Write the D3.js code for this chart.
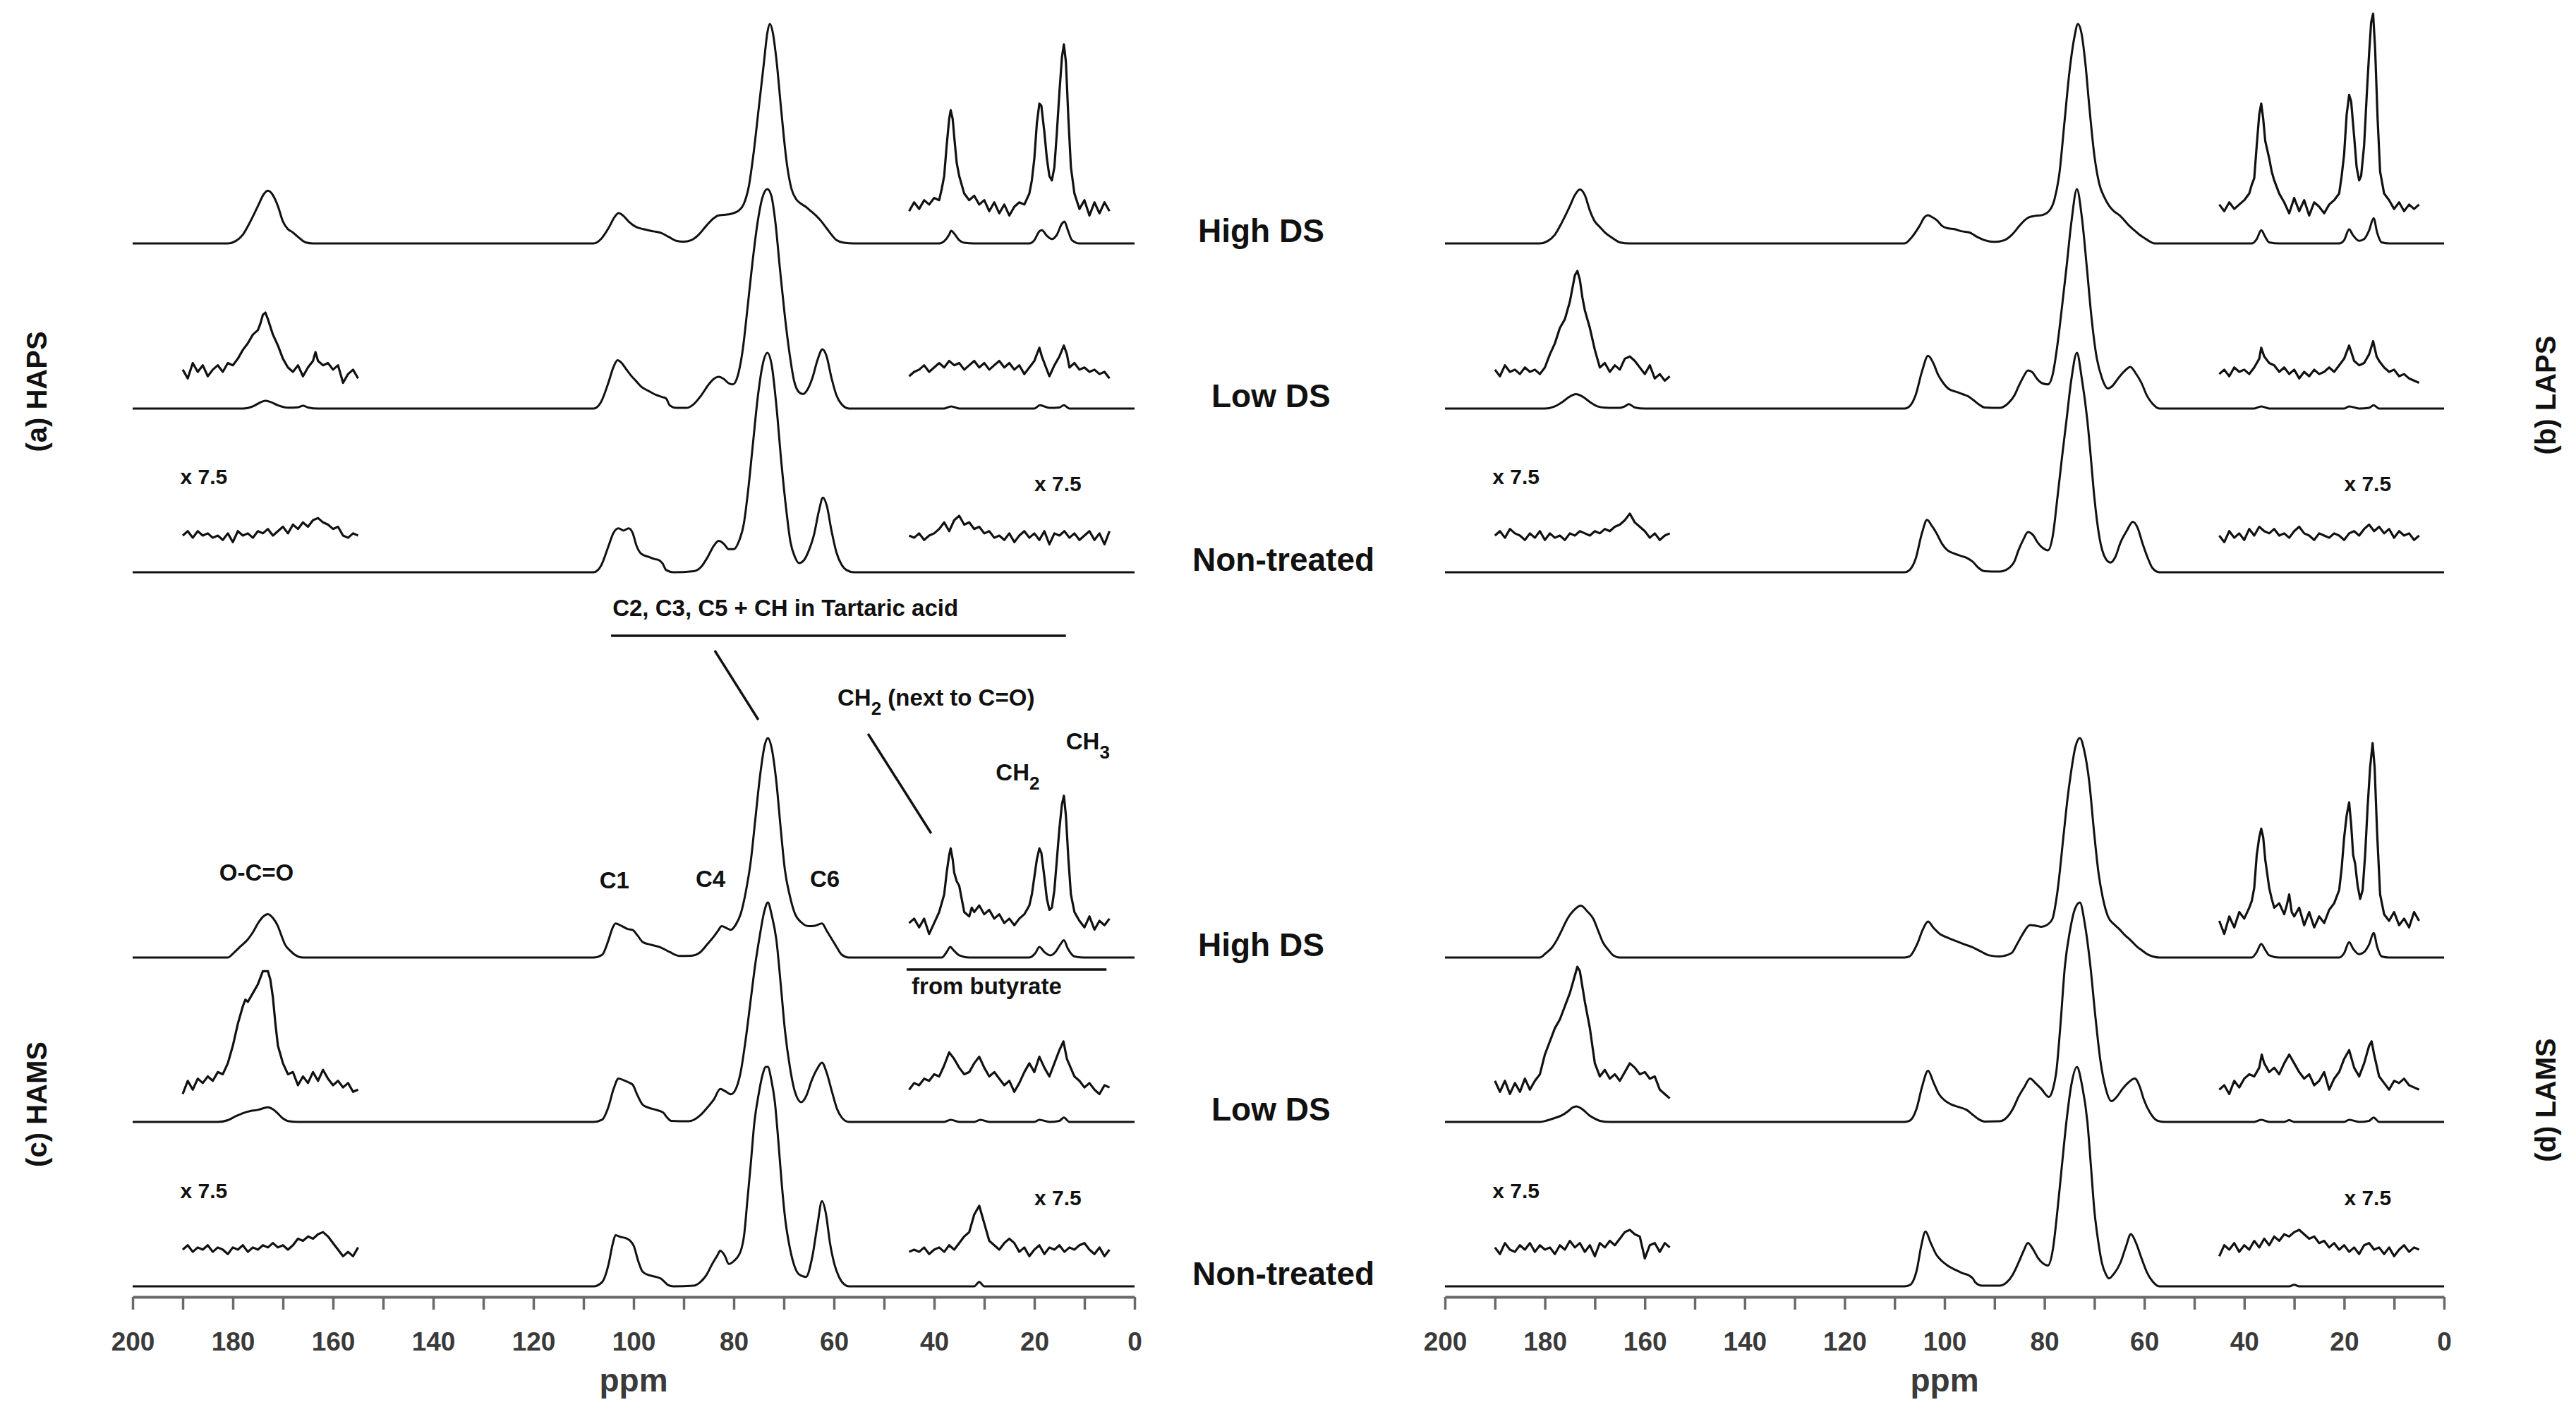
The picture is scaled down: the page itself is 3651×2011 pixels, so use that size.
<!DOCTYPE html>
<html lang="en">
<head>
<meta charset="UTF-8">
<title>13C CP/MAS NMR spectra</title>
<script src="https://cdn.jsdelivr.net/npm/d3@7"></script>
<style>
  body { margin: 0; background: #fff; }
  svg { display: block; font-family: "Liberation Sans", Arial, Helvetica, sans-serif; }
</style>
</head>
<body>
<script>
// ---- data (ppm, intensity; main peak = 100) ----
const samples = ["High DS", "Low DS", "Non-treated"];
const panelNames = ["(a) HAPS", "(b) LAPS", "(c) HAMS", "(d) LAMS"];
const axisTicks = [200, 190, 180, 170, 160, 150, 140, 130, 120, 110, 100, 90, 80, 70, 60, 50, 40, 30, 20, 10, 0];
const zoomLabel = "x 7.5";

// (a) HAPS
const hapsHigh = [[200,0],[181,0],[179.5,1],[178,4],[176.5,10],[175,17],[173.8,22.5],[173,24],[172,22],[171,17],[170,10],[169,6.5],[168,5],[167,3],[165.5,0.5],[164,0],[108,0],[106.5,2],[105,7],[103.8,12],[103,13.8],[102,12.5],[101,10],[99.5,7.5],[98,6.5],[96,5.5],[94.5,4.8],[93,3],[91.5,1.2],[90,0.8],[88.5,1.5],[87,4],[85.5,8],[84,11.5],[83,12.8],[82,13],[80.5,13.5],[79,15],[78,18],[77,26],[76,42],[75,62],[74,82],[73.3,96],[72.8,100],[72.2,96],[71.5,84],[70.5,60],[69.5,38],[68.5,25],[67.5,20],[66.5,18],[65.5,16.5],[64.5,14.5],[63.5,12.5],[62.5,10],[61.5,7],[60.5,4],[59.5,1.5],[58,0.3],[56,0],[39,0],[38,1],[37,4],[36.6,5.8],[36,4.5],[35,1.5],[34,0.3],[32,0],[21,0],[20,1.5],[19,5.5],[18.5,6],[17.5,3.5],[16.5,2],[15.5,4],[14.5,9],[14,10],[13.3,6],[12.5,1.5],[11,0],[0,0]];
const hapsHighR = [[45,-2],[44,2],[43,-1],[42,3],[41,1],[40,4],[39,3],[38.5,8],[38,14],[37.5,28],[37,40],[36.7,44],[36.3,40],[36,32],[35.5,20],[35,14],[34,6],[33,3],[32,5],[31,1],[30,3],[29,-2],[28,2],[27,-3],[26,1],[25,-4],[24,0],[23,2],[22,1],[21,6],[20.5,12],[20,22],[19.5,38],[19,47],[18.6,46],[18,34],[17.5,22],[17,14],[16.5,12],[16,18],[15.5,34],[15,52],[14.5,68],[14.1,74],[13.7,66],[13.2,40],[12.7,18],[12,6],[11,-1],[10,3],[9,-4],[8,2],[7,-3],[6,2],[5,-2]];
const hapsLow = [[200,0],[178,0],[176,1],[174.5,2.8],[173.5,3.5],[172.5,3],[171,1.5],[169,0.4],[167,0.6],[166,1.3],[165,0.5],[163,0],[108,0],[106.5,3],[105,12],[104,19],[103.2,22],[102.5,21],[101.5,18],[100.5,15],[99.5,12.5],[98.5,10],[97,8],[95.5,6.2],[94.2,5.2],[93.5,4.6],[92.8,1.5],[91.5,0.3],[89.5,0.3],[88,2],[86.5,6],[85,11],[84,13.5],[83,14.5],[82,13.5],[81,11.5],[80.2,11],[79.2,15],[78.2,27],[77.3,45],[76.3,66],[75.3,84],[74.3,96],[73.3,100],[72.5,97],[71.7,85],[70.8,64],[69.8,42],[68.8,24],[68,13],[67,7.5],[66.2,6.6],[65.2,9],[64.3,14],[63.3,22],[62.3,27],[61.5,24],[60.5,14],[59.5,6],[58.5,2],[57,0],[38,0],[36.6,1],[35,0],[20,0],[18.9,1.5],[17,0.3],[15,0.5],[14.1,1.5],[13,0],[0,0]];
const hapsLowL = [[190,1],[189,-3],[188,4],[187,0],[186,3],[185,-2],[184,1],[183,3],[182,0],[181,4],[180,3],[179,6],[178,10],[177,13],[176,17],[175,19],[174.5,22],[174,26],[173.5,27],[173,24],[172,17],[171,12],[170,6],[169,2],[168,0],[167,3],[166,-2],[165,2],[164,5],[163.5,9],[163,5],[162,3],[161,4],[160,1],[159,3],[158,-5],[157,-1],[156,1],[155,-3]];
const hapsLowR = [[45,-2],[44,0],[43,1],[42,3],[41,0],[40,2],[39,4],[38,2],[37,5],[36,3],[35,4],[34,1],[33,3],[32,5],[31,2],[30,4],[29,1],[28,3],[27,5],[26,2],[25,4],[24,1],[23,3],[22,-1],[21,2],[20,5],[19,11],[18.5,7],[18,4],[17,-2],[16,3],[15,7],[14.1,12],[13.5,8],[13,2],[12,4],[11,1],[10,2],[9,0],[8,1],[7,-1],[6,0],[5,-3]];
const hapsNon = [[200,0],[108,0],[106.5,3],[105,12],[104,18],[103,20],[102,19],[101,20],[100.2,18],[99.4,12],[98.5,8.5],[97,7],[95.8,6],[95,5.6],[94.2,4],[93.5,1],[92,0],[88,0.5],[86.5,2.5],[85.2,7],[84,12],[83,14.3],[82,13],[81,10.5],[80,10.5],[79,14],[78,22],[77.2,36],[76.2,58],[75.2,80],[74.2,95],[73.3,100],[72.4,94],[71.5,76],[70.5,50],[69.5,28],[68.7,14],[67.8,7],[67,4.2],[66,5.5],[65,10],[64,17],[63,28],[62.2,34],[61.4,30],[60.5,19],[59.5,9],[58.5,3.5],[57.5,1],[56,0],[0,0]];
const hapsNonL = [[190,0],[189,2],[188,-1],[187,2],[186,0],[185,1],[184,-1],[183,0],[182,-2],[181,1],[180,-3],[179,2],[178,0],[177,1],[176,-1],[175,2],[174,1],[173,3],[172,0],[171,2],[170,4],[169,1],[168,5],[167,3],[166,6],[165,4],[164,7],[163,8],[162,6],[161,5],[160,3],[159,4],[158,0],[157,-1],[156,1],[155,0]];
const hapsNonR = [[45,0],[44,-1],[43,1],[42,-2],[41,0],[40,1],[39,3],[38,6],[37,2],[36,7],[35,9],[34,5],[33,6],[32,3],[31,4],[30,1],[29,2],[28,-1],[27,0],[26,-2],[25,1],[24,-3],[23,0],[22,2],[21,-1],[20,1],[19,-2],[18,2],[17,-4],[16,1],[15,0],[14,2],[13,-1],[12,1],[11,-2],[10,0],[9,2],[8,-2],[7,1],[6,-4],[5,2]];

// (b) LAPS
const lapsHigh = [[200,0],[181,0],[179.5,1],[178,4],[176.5,10],[175,17],[174,22],[173,24.6],[172,22],[171,15],[170,10],[169,7.5],[168,5],[166.5,2.5],[165,0.5],[163,0],[108,0],[106.5,3],[105,8],[104,12],[103.3,12.9],[102.5,12],[101.5,10.5],[100.5,8],[99.5,7],[98,6.5],[96.5,5.5],[95,5],[93.5,3],[92,1.5],[90,0.7],[88,1.5],[86.5,4],[85,8],[84,10.5],[83,12],[82,12.5],[80.5,12.9],[79,15],[78,20],[77,32],[76,55],[75,78],[74,94],[73.3,100],[72.6,96],[71.8,82],[71,62],[70,40],[69,27],[68,21],[67,17],[66,14.5],[65,12.9],[64,10.5],[63,8],[62,6],[61,4],[60,2.5],[59,1],[58,0],[38.5,0],[37.5,2],[36.6,6],[35.8,3],[35,0.5],[33,0],[21,0],[20,1.5],[19,6.4],[18.3,4],[17,1.2],[16,2],[15,6],[14.1,11.5],[13.4,5],[12.5,0.5],[11,0],[0,0]];
const lapsHighR = [[45,1],[44,-2],[43,2],[42,-1],[41,1],[40,3],[39,6],[38.5,10],[38,13],[37.5,28],[37,42],[36.6,47],[36.2,40],[35.8,30],[35,22],[34.5,16],[34,12],[33,6],[32,2],[31,-3],[30,4],[29,-2],[28,3],[27,-4],[26,2],[25,0],[24,-3],[23,1],[22,3],[21,6],[20.5,14],[20,24],[19.5,42],[19,51],[18.6,48],[18,32],[17.5,18],[17,12],[16.6,14],[16,28],[15.5,50],[15,70],[14.6,84],[14.2,88],[13.8,72],[13.3,40],[12.8,16],[12,6],[11,3],[10,-1],[9,2],[8,-2],[7,1],[6,-1],[5,1]];
const lapsLow = [[200,0],[180,0],[178,1],[176.5,3],[175,5.5],[173.8,6.6],[172.5,5.5],[171,3],[169.5,1],[168,0.4],[165,0.3],[164,1],[163.2,2],[162,0.5],[160,0],[108,0],[107,1],[105.8,6],[104.5,17],[103.3,24],[102.3,21],[101.3,15.5],[100.2,11.5],[99.2,9],[97.5,7.5],[96.4,6.6],[95.2,5.5],[94.3,4],[93.2,2],[92,0.5],[89,0.3],[87.3,2.3],[86,6],[85.2,10],[84.2,14.5],[83.3,17.4],[82.4,16.5],[81.5,13.6],[80.4,11.5],[79.3,11],[78.3,16],[77.4,29],[76.5,46],[75.6,64],[74.6,85],[73.5,100],[72.5,87],[71.5,64],[70.6,42],[69.6,24],[68.5,14],[67.3,9.2],[66.3,10.5],[65.3,13.6],[64,17],[62.8,19],[61.7,16],[60.6,11.8],[59.5,6],[58.4,2.3],[57,0],[38,0],[36.6,1],[35,0],[20,0],[19,1],[17,0],[15,0.3],[14.1,1.5],[13,0],[0,0]];
const lapsLowL = [[190,1],[189,-2],[188,3],[187,0],[186,1],[185,-1],[184,2],[183,0],[182,1],[181,-1],[180,2],[179,8],[178,13],[177,20],[176,24],[175,32],[174.5,38],[174,44],[173.5,46],[173,42],[172.5,34],[172,28],[171,20],[170,10],[169,2],[168,4],[167,0],[166,3],[165,1],[164,6],[163,7],[162,5],[161,2],[160,-1],[159,3],[158,-3],[157,-1],[156,-4],[155,-2]];
const lapsLowR = [[45,-1],[44,1],[43,-2],[42,2],[41,0],[40,1],[39,-1],[38,2],[37,6],[36.6,11],[36,7],[35,4],[34,3],[33,0],[32,2],[31,-1],[30,1],[29,-3],[28,0],[27,-2],[26,1],[25,-1],[24,0],[23,2],[22,0],[21,3],[20,6],[19,12],[18,5],[17,3],[16,4],[15,8],[14.2,14],[13.5,7],[13,5],[12,2],[11,0],[10,1],[9,-2],[8,-1],[7,-3],[6,-4],[5,-5]];
const lapsNon = [[200,0],[108,0],[107,1],[105.8,6],[104.5,18],[103.5,23.9],[102.5,21],[101.6,17.8],[100.5,13],[99.4,10],[98,8.5],[96.5,7.3],[95.5,6.5],[94.3,4.7],[93.2,2],[92,0.5],[89,0.3],[87.3,1.6],[86,5],[85.2,10],[84.2,15],[83.3,18.3],[82.3,17],[81.3,13.4],[80.3,11],[79.3,10],[78.3,17],[77.4,34],[76.5,52],[75.6,69],[74.6,88],[73.5,100],[72.5,88],[71.4,69],[70.7,52],[70,34],[69,16],[67.8,6.4],[66.8,4.4],[65.8,7],[64.8,13.4],[63.5,19],[62.3,23],[61.3,20],[60.4,13.4],[59.4,7],[58.4,2],[57,0],[0,0]];
const lapsNonL = [[190,0],[189,2],[188,-1],[187,3],[186,1],[185,0],[184,-2],[183,1],[182,-1],[181,2],[180,-2],[179,1],[178,-1],[177,0],[176,-2],[175,1],[174,0],[173,2],[172,1],[171,0],[170,2],[169,1],[168,3],[167,2],[166,4],[165,5],[164,7],[163,10],[162,6],[161,4],[160,2],[159,-1],[158,1],[157,-2],[156,0],[155,1]];
const lapsNonR = [[45,0],[44,-3],[43,2],[42,-1],[41,1],[40,-2],[39,3],[38,0],[37,4],[36,2],[35,1],[34,3],[33,0],[32,1],[31,-1],[30,2],[29,4],[28,1],[27,0],[26,-2],[25,1],[24,0],[23,-1],[22,1],[21,0],[20,-2],[19,1],[18,2],[17,0],[16,3],[15,5],[14,2],[13,4],[12,1],[11,3],[10,-1],[9,2],[8,0],[7,1],[6,-2],[5,0]];

// (c) HAMS
const hamsHigh = [[200,0],[181,0],[179.7,2.4],[178.5,5],[177,8.3],[176,11.5],[175,15.5],[174,18.5],[173,19.8],[172,18],[171,14.3],[170.3,10],[169.6,6],[168.5,3],[167.6,1.2],[166,0],[108,0],[106.3,1.2],[105,8],[104.2,13.5],[103.6,15.5],[102.5,14.5],[101.2,13],[100.2,12.6],[99.2,10],[98.2,7.1],[96.5,5.8],[94.8,4.8],[92.8,2.5],[90.8,0.7],[88.5,0.8],[86.7,2.4],[85.3,6],[84,9.5],[83.2,12],[82.4,14.3],[81.5,13.5],[80.6,12.6],[79.6,15],[78.6,20],[77.6,30],[76.6,44],[75.7,63],[74.8,82],[73.8,97],[73.2,100],[72.4,95],[71.5,80],[70.6,58],[69.8,40],[68.8,28],[67.8,20],[66.5,16],[65.1,14.3],[63.8,14.5],[62.4,15.5],[61.4,12],[60.4,8.3],[59.4,4.5],[58.4,1.2],[57,0],[38.5,0],[37.5,2.5],[36.8,4.8],[36,3],[35,1],[33,0],[21,0],[19.8,2],[19,4.8],[18,2.5],[16.8,1],[15.8,2.5],[14.8,6],[14.1,7.9],[13.3,4],[12,0.5],[10,0],[0,0]];
const hamsHighR = [[45,-1],[44,1],[43,-3],[42,1],[41,-6],[40,-1],[39,4],[38.5,8],[38,12],[37.5,22],[37,30],[36.7,33],[36.3,28],[36,22],[35.5,18],[35,16],[34.5,10],[34,4],[33,2],[32.5,6],[32,4],[31,7],[30,3],[29,5],[28,1],[27,3],[26,-1],[25,1],[24,-2],[23,1],[22,3],[21,7],[20.5,12],[20,20],[19.5,28],[19,33],[18.6,31],[18,20],[17.5,10],[17,5],[16.5,6],[16,14],[15.5,28],[15,42],[14.5,53],[14.1,57],[13.7,48],[13.2,28],[12.7,12],[12,4],[11,0],[10,-3],[9,2],[8,-4],[7,0],[6,-2],[5,1]];
const hamsLow = [[200,0],[183,0],[181,0.8],[179.5,2.5],[178,4],[176.5,5],[175,5.5],[174,6.2],[173,6.7],[172,5.8],[171,3.8],[170,1.6],[169,0.4],[167,0],[108,0],[106.3,1],[105,7],[104,15],[103,19.8],[102,19],[101,18],[100.2,17],[99.2,12],[98.2,7.9],[97,6.5],[95.5,5.5],[94.1,4.3],[93.3,2],[92.5,0.5],[89,0.3],[86.7,3],[85.3,6.5],[84,10.2],[82.7,15],[81.7,14],[80.6,12.6],[79.6,15],[78.6,23],[77.6,38],[76.6,56],[75.7,72],[74.8,85],[73.9,96],[73.2,100],[72.4,94],[71.5,83],[70.6,62],[69.8,42],[68.8,25],[67.8,13.8],[66.5,9],[65.5,12],[64.5,18.6],[63.4,24],[62.4,27],[61.4,22],[60.4,13.8],[59.4,6],[58.4,1.9],[57,0],[38,0],[36.7,1],[35,0],[32,0],[30.8,1],[29,0],[20,0],[19,1],[17,0],[15,0.5],[14.1,2],[13,0],[0,0]];
const hamsLowL = [[190,-4],[189,2],[188,-2],[187,3],[186,1],[185,4],[184,2],[183,6],[182,5],[181,10],[180,18],[179,28],[178,36],[177.5,39],[177,38],[176,42],[175,46],[174,52],[173,52],[172.5,48],[172,40],[171.5,28],[171,18],[170,10],[169,5],[168,6],[167,0],[166,4],[165,1],[164,6],[163,2],[162,7],[161,3],[160,0],[159,2],[158,-1],[157,1],[156,-3],[155,-2]];
const hamsLowR = [[45,-2],[44,1],[43,0],[42,3],[41,2],[40,5],[39,4],[38,9],[37,15],[36,12],[35,8],[34,5],[33,6],[32,10],[31,13],[30,8],[29,4],[28,6],[27,3],[26,0],[25,2],[24,-3],[23,1],[22,6],[21,10],[20,6],[19,13],[18,8],[17,4],[16,10],[15,16],[14.2,20],[13.5,12],[12,4],[11,2],[10,-1],[9,1],[8,-2],[7,-4],[6,0],[5,-1]];
const hamsNon = [[200,0],[108,0],[106.3,1.9],[105,10],[104.2,19],[103.6,23.3],[102.6,22.5],[101.6,22],[100.8,21],[100,18.6],[99,11],[98.2,6.7],[96.8,5],[95.5,4.3],[94.6,3.6],[93.8,2],[93.2,0.7],[92,0],[88,0.3],[86.7,1.9],[85.5,5],[84.3,10.2],[83.3,14],[82.7,16.2],[81.8,14],[81,10.2],[80,11.5],[78.6,16.2],[77.9,24],[77.3,38.8],[76.6,56],[75.9,74.5],[75,88],[74.3,96],[73.6,100],[73.2,100],[72.5,94],[71.8,84],[71.1,66],[70.4,46],[69.7,30],[69,19.8],[68,10],[67,5.5],[65.6,4.3],[64.3,13.8],[63.3,28],[62.4,38.8],[61.6,33],[60.8,19.8],[59.9,10],[59,4.3],[58,1],[57,0],[32,0],[31,2],[30,0],[0,0]];
const hamsNonL = [[190,0],[189,2],[188,-1],[187,1],[186,0],[185,2],[184,-1],[183,1],[182,0],[181,-2],[180,1],[179,0],[178,2],[177,-1],[176,1],[175,0],[174,2],[173,1],[172,3],[171,1],[170,2],[169,0],[168,2],[167,5],[166,4],[165,6],[164,5],[163,7],[162,8],[161,6],[160,3],[159,0],[158,-3],[157,-1],[156,-3],[155,1]];
const hamsNonR = [[45,-1],[44,0],[43,-1],[42,1],[41,-2],[40,0],[39,1],[38,-1],[37,2],[36,0],[35,3],[34,6],[33,8],[32,16],[31,20],[30,12],[29,4],[28,2],[27,0],[26,3],[25,5],[24,3],[23,-1],[22,1],[21,-3],[20,0],[19,2],[18,-2],[17,1],[16,0],[15,2],[14,-1],[13,1],[12,0],[11,2],[10,3],[9,0],[8,-2],[7,1],[6,-3],[5,0]];

// (d) LAMS
const lamsHigh = [[200,0],[181,0],[179.8,2],[178.6,4.5],[177.6,8],[176.5,13],[175.5,17.6],[174,22],[172.8,23.6],[171.5,21],[170.3,17.6],[169.3,12],[168.4,7],[167.3,3.5],[166.3,1],[165,0],[108,0],[107,0.5],[105.5,6],[104.3,13],[103.3,16.4],[102.2,13.5],[100.8,10.5],[99.3,9],[97.8,7.6],[96,6],[94.2,4.5],[92.5,2.5],[91.1,1],[89,0.5],[86.6,2],[85.5,6],[84.4,10.5],[82.9,14.8],[81.7,14.5],[80.6,14],[79.4,15],[78.4,17.6],[77.4,30],[76.2,55],[75.4,72],[74.7,84],[73.8,96],[72.9,100],[72,94],[71,79.5],[70.1,58],[69.2,39],[68.2,26],[67.3,18.8],[66,15],[65,12.9],[63.8,10],[62.8,8],[61.5,5],[60.5,3.3],[59.4,1.5],[58.3,0.5],[57,0],[38.5,0],[37.5,2.5],[36.6,6.2],[35.8,3.5],[35,1],[33,0],[21,0],[20,2],[19,7],[18.2,4],[17,1.5],[16,2.5],[15,6],[14.1,11.2],[13.4,5],[12.5,0.5],[11,0],[0,0]];
const lamsHighR = [[45,0],[44,-6],[43,2],[42,-3],[41,4],[40,1],[39,6],[38.5,9],[38,15],[37.5,30],[37,38],[36.6,42],[36.2,38],[35.8,28],[35,15],[34.5,10],[34,6],[33,8],[32,3],[31.5,7],[31,12],[30.5,4],[30,2],[29,6],[28,-2],[27,4],[26,-3],[25,2],[24,-1],[23,5],[22,8],[21,14],[20.5,24],[20,38],[19.5,48],[19,54],[18.6,44],[18.2,30],[17.8,26],[17.3,16],[16.8,10],[16.3,14],[15.8,30],[15.3,52],[14.8,70],[14.3,81],[13.9,70],[13.4,40],[12.8,12],[12,3],[11,0],[10,4],[9,-2],[8,1],[7,-3],[6,4],[5,0]];
const lamsLow = [[200,0],[181,0],[179.5,0.7],[178,1.8],[176.6,3],[175.3,5],[174.5,6.5],[173.7,7.1],[172.5,5.8],[171.1,3],[170,1.5],[169,0.5],[167,0],[108,0],[107,0.5],[105.6,6],[104.5,16],[103.3,23.3],[102.2,18],[101.1,12.6],[99.8,9.5],[98.6,7.9],[97,6.7],[95.6,5.5],[94.2,3],[93,1],[92,0.2],[89,0.3],[87.6,1.9],[86.3,6],[85.2,11.4],[84,16],[82.9,19.8],[81.7,17.5],[80.6,15],[79.1,11.4],[78.3,15],[77.6,23.3],[76.8,44],[75.9,71],[74.9,87],[73.9,97],[72.9,100],[71.9,90],[70.8,71],[69.8,48],[68.8,28],[67.7,15],[66.6,9.5],[65.5,11.5],[64.4,15],[63.2,18],[61.9,19.8],[60.9,16],[60.1,10.2],[58.8,4],[57.5,0.7],[56,0],[38,0],[36.6,1],[35,0],[32,0],[31,0.8],[30,0],[20,0],[19,1],[17,0],[15,0.5],[14.1,2],[13,0],[0,0]];
const lamsLowL = [[190,2],[189,-3],[188,2],[187,-4],[186,1],[185,-3],[184,3],[183,-2],[182,2],[181,5],[180,14],[179,20],[178,26],[177,30],[176,36],[175,42],[174,50],[173.5,54],[173,52],[172,38],[171,26],[170,10],[169,4],[168,7],[167,3],[166,5],[165,2],[164,6],[163,10],[162,8],[161,5],[160,6],[159,3],[158,4],[157,-2],[156,-4],[155,-6]];
const lamsLowR = [[45,-2],[44,0],[43,-4],[42,2],[41,-1],[40,3],[39,5],[38,4],[37,8],[36.5,14],[36,10],[35,6],[34,8],[33,5],[32,10],[31,14],[30,10],[29,6],[28,3],[27,5],[26,0],[25,2],[24,6],[23,-2],[22,3],[21,6],[20,12],[19,16],[18,8],[17,4],[16,10],[15,18],[14.5,20],[14,14],[13,4],[12,1],[11,-2],[10,2],[9,1],[8,3],[7,0],[6,-1],[5,-2]];
const lamsNon = [[200,0],[108,0],[107,0.5],[105.5,8],[104.7,18],[103.8,25],[102.8,20],[101.6,14.3],[100.5,11.5],[99.4,9.5],[97.8,7.5],[96.4,6],[95,4.8],[94.3,3.5],[93.8,1.7],[92.5,0.3],[89,0.3],[87.6,1.7],[86.3,5.5],[85.2,10.7],[84.2,16],[83.3,19.8],[82.3,17],[81.3,13],[80.3,10.5],[79.3,9.5],[78.3,17],[77.4,34.5],[76.5,55],[75.6,75],[74.6,92],[73.5,100],[72.5,92],[71.4,75],[70.7,55],[70,34.5],[69.2,20],[68.5,10.7],[67.7,5.5],[67.1,3.6],[66,6],[64.8,10.7],[63.7,18],[62.7,23.8],[61.7,20],[60.6,13],[59.5,6.5],[58.4,2.4],[57,0],[31,0],[30,0.7],[29,0],[0,0]];
const lamsNonL = [[190,1],[189,-2],[188,3],[187,0],[186,-1],[185,2],[184,0],[183,3],[182,-1],[181,2],[180,0],[179,1],[178,-2],[177,2],[176,0],[175,4],[174,1],[173,3],[172,-1],[171,2],[170,-3],[169,3],[168,1],[167,4],[166,2],[165,5],[164,8],[163,9],[162,7],[161,6],[160,-4],[159,2],[158,3],[157,-1],[156,3],[155,1]];
const lamsNonR = [[45,-3],[44,2],[43,0],[42,3],[41,-1],[40,2],[39,0],[38,4],[37,1],[36,5],[35,2],[34,6],[33,4],[32,7],[31,6],[30,8],[29,9],[28,7],[27,5],[26,6],[25,3],[24,4],[23,1],[22,3],[21,0],[20,2],[19,-1],[18,1],[17,-2],[16,2],[15,3],[14,0],[13,1],[12,-2],[11,1],[10,-3],[9,0],[8,2],[7,-1],[6,1],[5,0]];

// ---- layout ----
const width = 3651, height = 2011;
const peakPx = 311;       // height of the 100 % peak
const insetLift = 52;     // x7.5 traces sit this far above their baseline
const axisY = 1838;
const rowBaselines = [[345, 579, 811], [1357, 1590, 1823]];
const colRanges = [[188, 1608], [2048, 3464]];
const sampleLabelX = [1698, 1717, 1690];

const panels = [
  { name: panelNames[0], col: 0, row: 0, traces: [
      { main: hapsHigh, right: hapsHighR },
      { main: hapsLow, left: hapsLowL, right: hapsLowR },
      { main: hapsNon, left: hapsNonL, right: hapsNonR } ] },
  { name: panelNames[1], col: 1, row: 0, traces: [
      { main: lapsHigh, right: lapsHighR },
      { main: lapsLow, left: lapsLowL, right: lapsLowR },
      { main: lapsNon, left: lapsNonL, right: lapsNonR } ] },
  { name: panelNames[2], col: 0, row: 1, traces: [
      { main: hamsHigh, right: hamsHighR },
      { main: hamsLow, left: hamsLowL, right: hamsLowR },
      { main: hamsNon, left: hamsNonL, right: hamsNonR } ] },
  { name: panelNames[3], col: 1, row: 1, traces: [
      { main: lamsHigh, right: lamsHighR },
      { main: lamsLow, left: lamsLowL, right: lamsLowR },
      { main: lamsNon, left: lamsNonL, right: lamsNonR } ] }
];

let svg = d3.select("body").append("svg")
    .attr("width", width)
    .attr("height", height)
    .attr("viewBox", [0, 0, width, height]);

let xScales = colRanges.map(r => d3.scaleLinear().domain([200, 0]).range(r));

panels.forEach(p => {
    let x = xScales[p.col];
    let g = svg.append("g");
    p.traces.forEach((t, i) => {
        let base = rowBaselines[p.row][i];
        let y = d3.scaleLinear().domain([0, 100]).range([base, base - peakPx]);
        let yIn = d3.scaleLinear().domain([0, 100]).range([base - insetLift, base - insetLift - peakPx]);

        let mainLine = d3.line().x(d => x(d[0])).y(d => y(d[1])).curve(d3.curveMonotoneX);
        let insetLine = d3.line().x(d => x(d[0])).y(d => yIn(d[1]));

        g.append("path").attr("d", mainLine(t.main))
            .attr("fill", "none").attr("stroke", "#111").attr("stroke-width", 3)
            .attr("stroke-linejoin", "round");
        [t.left, t.right].filter(Boolean).forEach(seg => {
            g.append("path").attr("d", insetLine(seg))
                .attr("fill", "none").attr("stroke", "#111").attr("stroke-width", 3.2)
                .attr("stroke-linejoin", "round");
        });
    });
});

// sample names between the panels
rowBaselines.forEach(row => {
    row.forEach((base, i) => {
        svg.append("text").attr("x", sampleLabelX[i]).attr("y", base - 2)
            .attr("font-size", 46).attr("font-weight", "bold").attr("fill", "#111")
            .text(samples[i]);
    });
});

// "x 7.5" scale marks (on the Non-treated rows)
[[0, 0], [1, 0], [0, 1], [1, 1]].forEach(([c, r]) => {
    let x = xScales[c];
    let base = rowBaselines[r][2];
    svg.append("text").attr("x", x(190.5)).attr("y", base - 125)
        .attr("font-size", 30).attr("font-weight", "bold").attr("fill", "#111").text(zoomLabel);
    svg.append("text").attr("x", x(20)).attr("y", base - 115)
        .attr("font-size", 30).attr("font-weight", "bold").attr("fill", "#111").text(zoomLabel);
});

// x axes
xScales.forEach(x => {
    let ax = svg.append("g").attr("transform", `translate(0,${axisY})`)
        .call(d3.axisBottom(x).tickValues(axisTicks).tickSize(18).tickSizeOuter(0).tickPadding(32)
            .tickFormat(d => d % 20 === 0 ? d : ""));
    ax.select(".domain").attr("stroke", "#6a6a6a").attr("stroke-width", 4);
    ax.selectAll(".tick line").attr("stroke", "#6a6a6a").attr("stroke-width", 3.5);
    ax.selectAll(".tick text").attr("font-size", 37).attr("font-weight", "bold")
        .attr("fill", "#3a3a3a").attr("font-family", "Liberation Sans, Arial, sans-serif");
    let r = x.range();
    svg.append("text").attr("x", (r[0] + r[1]) / 2).attr("y", 1972)
        .attr("text-anchor", "middle").attr("font-size", 46).attr("font-weight", "bold")
        .attr("fill", "#3a3a3a").text("ppm");
});

// panel names, rotated
const nameSpots = [[66, 555], [3622, 560], [66, 1565], [3622, 1559]];
panels.forEach((p, i) => {
    svg.append("text")
        .attr("transform", `translate(${nameSpots[i][0]},${nameSpots[i][1]}) rotate(-90)`)
        .attr("text-anchor", "middle").attr("font-size", 40).attr("font-weight", "bold")
        .attr("fill", "#111").text(p.name);
});

// peak assignments in panel (c)
let xc = xScales[0];
let note = svg.append("g").attr("font-size", 33).attr("font-weight", "bold").attr("fill", "#111");
let ink = { stroke: "#111", "stroke-width": 3.5 };
function rule(x1, y1, x2, y2) {
    let l = svg.append("line").attr("x1", x1).attr("y1", y1).attr("x2", x2).attr("y2", y2);
    Object.entries(ink).forEach(([k, v]) => l.attr(k, v));
}
note.append("text").attr("x", xc(104.2)).attr("y", 873).text("C2, C3, C5 + CH in Tartaric acid");
rule(xc(104.5), 901, xc(13.7), 901);
rule(xc(83.8), 922, xc(75.1), 1020);

let ch2a = note.append("text").attr("x", xc(59.3)).attr("y", 1000);
ch2a.append("tspan").text("CH");
ch2a.append("tspan").attr("dy", 13).attr("font-size", 26).text("2");
ch2a.append("tspan").attr("dy", -13).text(" (next to C=O)");
rule(xc(53.2), 1040, xc(40.6), 1181);

let ch3 = note.append("text").attr("x", xc(13.7)).attr("y", 1062);
ch3.append("tspan").text("CH");
ch3.append("tspan").attr("dy", 13).attr("font-size", 26).text("3");
let ch2b = note.append("text").attr("x", xc(27.7)).attr("y", 1106);
ch2b.append("tspan").text("CH");
ch2b.append("tspan").attr("dy", 13).attr("font-size", 26).text("2");

note.append("text").attr("x", xc(182.7)).attr("y", 1248).text("O-C=O");
note.append("text").attr("x", xc(106.8)).attr("y", 1259).text("C1");
note.append("text").attr("x", xc(87.6)).attr("y", 1257).text("C4");
note.append("text").attr("x", xc(64.8)).attr("y", 1257).text("C6");

rule(xc(45.5), 1374, xc(5.6), 1374);
note.append("text").attr("x", xc(44.5)).attr("y", 1409).text("from butyrate");
</script>
</body>
</html>
